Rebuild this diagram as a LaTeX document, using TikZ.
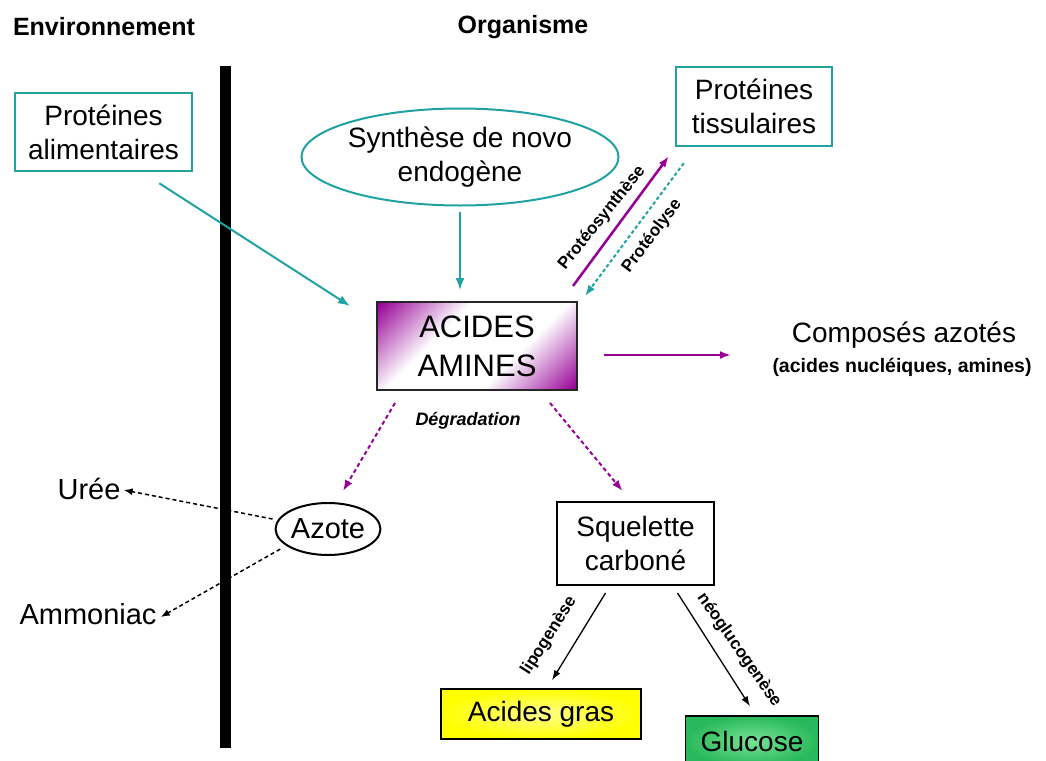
\documentclass[tikz,border=0pt]{standalone}
\usepackage{fontspec}
\setmainfont{Liberation Sans}
\usetikzlibrary{arrows.meta,calc,shapes.geometric}
\definecolor{tealc}{RGB}{32,162,162}
\definecolor{purp}{RGB}{150,0,150}
\definecolor{glu}{RGB}{40,185,90}
\definecolor{gluin}{RGB}{120,225,150}
\definecolor{yel}{RGB}{255,255,0}
\definecolor{yelin}{RGB}{255,255,140}
\newcommand\fbig{\fontsize{28}{34}\selectfont}
\newcommand\flab{\fontsize{17}{20}\selectfont\bfseries}
\pgfdeclareverticalshading{aashade}{100bp}{color(0bp)=(purp); color(15bp)=(purp); color(38bp)=(white); color(62bp)=(white); color(85bp)=(purp); color(100bp)=(purp)}
\tikzset{
  tbox/.style={draw=tealc, line width=2.5pt, align=center, font=\fbig, inner sep=0pt},
  kbox/.style={draw=black, line width=2pt, align=center, font=\fbig, inner sep=0pt},
  plain/.style={align=center, font=\fbig, inner sep=0pt},
  tarrow/.style={draw=tealc, line width=2pt, -{Latex[length=12pt,width=9pt]}},
  tdash/.style={draw=tealc, line width=2pt, dash pattern=on 3.5pt off 2.5pt, -{Latex[length=11pt,width=8pt]}},
  parrow/.style={draw=purp, line width=2.5pt, -{Latex[length=11pt,width=8pt]}},
  pdash/.style={draw=purp, line width=2pt, dash pattern=on 4pt off 3pt, -{Latex[length=11pt,width=8pt]}},
  kdash/.style={draw=black, line width=1.5pt, dash pattern=on 4pt off 3pt, -{Latex[length=9pt,width=7pt]}},
  karrow/.style={draw=black, line width=1.3pt, -{Latex[length=10pt,width=7pt]}},
  lab/.style={font=\flab, inner sep=0pt}
}
\begin{document}
\begin{tikzpicture}[x=1pt,y=-1pt]
\useasboundingbox (0,0) rectangle (1046,760);
\clip (0,0) rectangle (1046,760);
% headings
\node[font=\fontsize{25}{28}\selectfont\bfseries, inner sep=0pt] (env) at (104,27) {Environnement};
\node[font=\fontsize{25}{28}\selectfont\bfseries, inner sep=0pt] (org) at (523,27) {Organisme};
% membrane
\node[fill=black, minimum width=11pt, minimum height=682pt, inner sep=0pt] (bar) at (225.5,407) {};
% nodes
\node[tbox, minimum width=177pt, minimum height=78pt] (palim) at (103.5,132) {Protéines\\alimentaires};
\node[tbox, ellipse, line width=2pt, minimum width=270pt, minimum height=97pt] (syn) at (460,157) {Synthèse de novo\\endogène};
\node[tbox, minimum width=156pt, minimum height=79pt] (ptis) at (754,106.5) {Protéines\\tissulaires};
\node[kbox, draw=black!85, shade, shading=aashade, shading angle=45, minimum width=200pt, minimum height=88pt, font=\fontsize{31}{39}\selectfont] (aa) at (477,346) {ACIDES\\AMINES};
\node[plain, font=\fontsize{28}{30}\selectfont] (comp) at (904,335) {Composés azotés};
\node[plain, font=\fontsize{19.5}{22}\selectfont\bfseries] (compsub) at (902,367) {(acides nucléiques, amines)};
\node[lab, font=\fontsize{18}{20}\selectfont\bfseries\itshape] (degr) at (468,421) {Dégradation};
\node[kbox, ellipse, minimum width=101pt, minimum height=52pt, font=\fontsize{29}{30}\selectfont] (azote) at (328,529) {Azote};
\node[plain, font=\fontsize{29}{30}\selectfont] (uree) at (89,489) {Urée};
\node[plain, font=\fontsize{29}{30}\selectfont] (ammo) at (88,614) {Ammoniac};
\node[kbox, minimum width=157pt, minimum height=83pt] (sq) at (635.5,543.5) {Squelette\\carboné};
\node[kbox, line width=1.5pt, inner color=yelin, outer color=yel, minimum width=200pt, minimum height=50pt] (ag) at (541,714) {Acides gras};
\node[kbox, line width=1.5pt, inner color=gluin, outer color=glu, minimum width=133pt, minimum height=50pt] (gl) at (752,741) {Glucose};
% connectors
\draw[tarrow] ($(palim.south east)+(-34,11)$) -- ($(aa.north west)+(-26,5)$);
\draw[tarrow, shorten <=5pt, shorten >=11pt] (syn.south) -- (syn.south |- aa.north);
\draw[parrow] ($(aa.north east)+(-5,-15)$) -- ($(ptis.south west)+(-6,9)$);
\draw[tdash] ($(ptis.south west)+(9,16)$) -- ($(aa.north east)+(7,-5)$);
\draw[parrow] ($(aa.east)+(26,9)$) -- ($(aa.east)+(153,9)$);
\draw[pdash] ($(aa.south west)+(19,12)$) -- ($(azote.north)+(15,-11)$);
\draw[pdash] ($(aa.south east)+(-28,12)$) -- ($(sq.north)+(-13,-10)$);
\draw[kdash] ($(azote.west)+(-2,-10)$) -- ($(uree.east)+(3,1)$);
\draw[kdash] ($(azote.south west)+(-10,1)$) -- ($(ammo.east)+(4,3)$);
\draw[karrow] ($(sq.south)+(-30,7)$) -- ($(ag.north)+(11,-8)$);
\draw[karrow] ($(sq.south)+(42,7)$) -- ($(gl.north)+(-2,-9)$);
% arrow labels
\node[lab, rotate=51] (lsyn) at (602,218) {Protéosynthèse};
\node[lab, rotate=53] (llys) at (652,236) {Protéolyse};
\node[lab, rotate=57.6] (llip) at (549,636) {lipogenèse};
\node[lab, rotate=-55] (lneo) at (739,650) {néoglucogenèse};
\end{tikzpicture}
\end{document}
